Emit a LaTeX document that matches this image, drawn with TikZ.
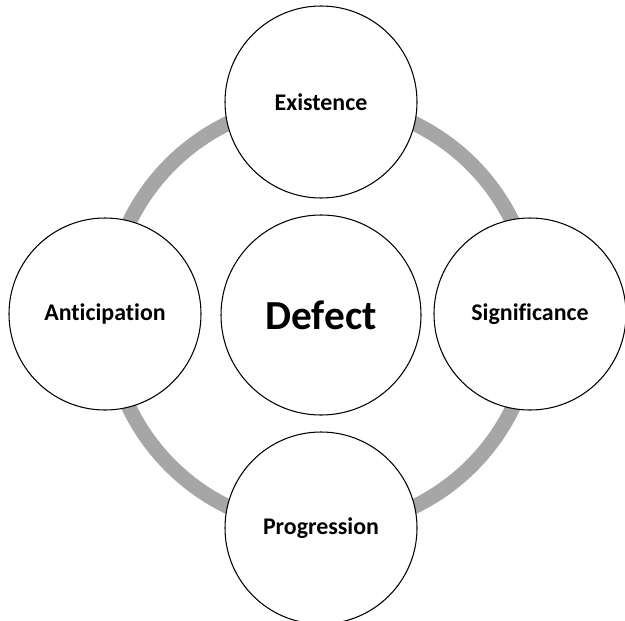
\documentclass[tikz,border=0pt]{standalone}
\usepackage{fontspec}
\setmainfont{Carlito}[Ligatures=NoCommon]
\usetikzlibrary{arrows,shapes}
\tikzstyle{outervertex}=[circle,draw,fill=white,line width=0.6pt,minimum size=3.84cm,inner sep=0pt,font=\fontsize{13.6}{16}\selectfont\bfseries]
\tikzstyle{centervertex}=[circle,draw,fill=white,line width=0.6pt,minimum size=4cm,inner sep=0pt,font=\fontsize{23.5}{27}\selectfont\bfseries]
\tikzstyle{ring}=[draw=black!35,line width=8.5pt]

\begin{document}
\begin{tikzpicture}[scale=1]

    \useasboundingbox (0,0) rectangle (12.5,12.4);

    \coordinate (hub) at (6.42,6.1);
    \draw[ring] (hub) circle (4.26);

    \node[centervertex] (defect) at (hub) {Defect};

     \foreach \x/\y/\name/\txt in {6.42/10.36/existence/Existence, 10.6/6.12/significance/Significance, 6.42/1.84/progression/Progression, 2.1/6.12/anticipation/Anticipation}
        \node[outervertex] (\name) at (\x, \y) {\txt};

\end{tikzpicture}
\end{document}
